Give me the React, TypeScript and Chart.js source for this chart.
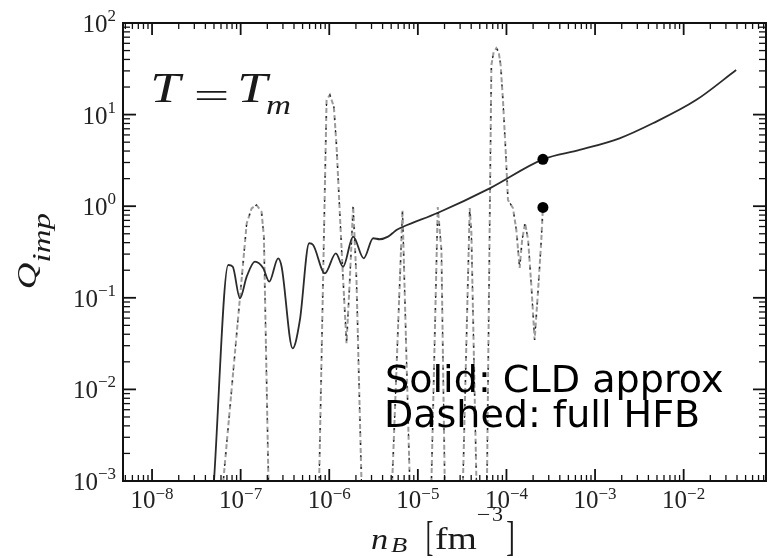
import React, { useEffect, useRef } from 'react';
import { Chart, registerables } from 'chart.js';

Chart.register(...registerables);

// Axis ranges
const xMin = 4.7e-9;
const xMax = 0.085;
const yMin = 1e-3;
const yMax = 100;

// Major tick exponents (labels)
const xTickExps = [-8, -7, -6, -5, -4, -3, -2];
const yTickExps = [-3, -2, -1, 0, 1, 2];

// Solid: CLD approx
const solidX = [5.0e-8, 7.24e-8, 8.13e-8, 9.82e-8, 1.17e-7, 1.45e-7, 1.8e-7, 2.1e-7, 2.65e-7, 2.9e-7, 3.86e-7, 4.66e-7, 5.93e-7, 6.58e-7, 8.92e-7, 1.187e-6, 1.43e-6, 1.86e-6, 2.45e-6, 3.13e-6, 3.72e-6, 4.61e-6, 5.21e-6, 5.74e-6, 6.81e-6, 1.69e-5, 6.47e-5, 2.58e-4, 6.69e-4, 1.89e-3, 4.49e-3, 1.38e-2, 3.91e-2];
const solidY = [1e-3, 0.228, 0.2185, 0.0987, 0.17, 0.248, 0.21, 0.15, 0.27, 0.2185, 0.0281, 0.057, 0.394, 0.377, 0.185, 0.306, 0.2185, 0.465, 0.27, 0.447, 0.4355, 0.465, 0.51, 0.55, 0.597, 0.849, 1.567, 3.25, 4.11, 5.51, 8.04, 14.4, 30.7];

// Dashed: full HFB (null = gap)
const dashedX = [
  6.37e-8, 1.17e-7, 1.33e-7, 1.51e-7, 1.72e-7, 1.83e-7, 2.06e-7, null,
  7.69e-7, 9.33e-7, 1.016e-6, 1.127e-6, 1.21e-6, 1.316e-6, 1.435e-6, 1.567e-6, 1.706e-6, 1.86e-6, 2.03e-6, 2.21e-6, 2.31e-6, null,
  5.14e-6, 6.71e-6, 8.1e-6, null,
  1.423e-5, 1.677e-5, 1.845e-5, 2.01e-5, null,
  3.23e-5, 3.85e-5, 4.02e-5, 4.58e-5, null,
  6.03e-5, 6.76e-5, 7.17e-5, 7.69e-5, 8.17e-5, 8.6e-5, 9.13e-5, 9.79e-5, 1.04e-4, 1.184e-4, 1.293e-4, 1.409e-4, 1.503e-4, 1.624e-4, 1.756e-4, 1.924e-4, 2.079e-4, 2.265e-4, 2.474e-4, 2.58e-4,
];
const dashedY = [
  1e-3, 0.65, 0.948, 1.03, 0.871, 0.465, 1e-3, null,
  1e-3, 14.4, 16.4, 12.2, 4.46, 0.837, 0.156, 0.0319, 0.156, 1.005, 0.156, 0.00552, 1e-3, null,
  1e-3, 0.909, 1e-3, null,
  1e-3, 0.98, 0.333, 1e-3, null,
  1e-3, 0.956, 0.51, 1e-3, null,
  1e-3, 34.8, 48.2, 53.3, 48.2, 34.8, 14.4, 4.11, 1.17, 0.956, 0.55, 0.2115, 0.4276, 0.655, 0.4276, 0.1217, 0.0346, 0.1128, 0.4276, 0.98,
];

// Marker dots
const markerX = [2.58e-4, 2.58e-4];
const markerY = [3.25, 0.97];

const SERIF = '"Liberation Serif", "Times New Roman", serif';

function drawInkBox(ctx: CanvasRenderingContext2D, text: string, font: string, left: number, top: number, w: number, h: number, clamp = 1.3) {
  ctx.save();
  ctx.font = font;
  ctx.textAlign = 'left';
  ctx.textBaseline = 'alphabetic';
  const m = ctx.measureText(text);
  const iw = m.actualBoundingBoxLeft + m.actualBoundingBoxRight;
  const ih = m.actualBoundingBoxAscent + m.actualBoundingBoxDescent;
  let sx = w / iw;
  let sy = h / ih;
  if (clamp > 0) {
    if (sx > sy * clamp) sx = sy * clamp;
    if (sy > sx * clamp) sy = sx * clamp;
  }
  ctx.translate(left, top);
  ctx.scale(sx, sy);
  ctx.fillText(text, m.actualBoundingBoxLeft, m.actualBoundingBoxAscent);
  ctx.restore();
}

function drawFitW(ctx: CanvasRenderingContext2D, text: string, font: string, left: number, baseline: number, w: number) {
  ctx.save();
  ctx.font = font;
  ctx.textAlign = 'left';
  ctx.textBaseline = 'alphabetic';
  const m = ctx.measureText(text);
  const iw = m.actualBoundingBoxLeft + m.actualBoundingBoxRight;
  ctx.translate(left, baseline);
  ctx.scale(w / iw, 1);
  ctx.fillText(text, m.actualBoundingBoxLeft, 0);
  ctx.restore();
}

const framePlugin = {
  id: 'framePlugin',
  afterDatasetsDraw(chart: any) {
    const { ctx, chartArea: a, scales } = chart;
    const xs = scales.x;
    const ys = scales.y;
    ctx.save();
    ctx.strokeStyle = '#111';
    ctx.fillStyle = '#222';
    const line = (x1: number, y1: number, x2: number, y2: number, w: number) => {
      ctx.lineWidth = w;
      ctx.beginPath();
      ctx.moveTo(x1, y1);
      ctx.lineTo(x2, y2);
      ctx.stroke();
    };
    // x ticks
    for (let e = -9; e <= -1; e++) {
      for (let m = 1; m <= 9; m++) {
        const v = m * Math.pow(10, e);
        if (v < xMin || v > xMax) continue;
        const px = xs.getPixelForValue(v);
        const major = m === 1;
        const len = major ? 12 : 6;
        const w = major ? 1.8 : 1.3;
        line(px, a.bottom, px, a.bottom - len, w);
        line(px, a.top, px, a.top + len, w);
      }
    }
    // y ticks
    for (let e = -3; e <= 2; e++) {
      for (let m = 1; m <= 9; m++) {
        const v = m * Math.pow(10, e);
        if (v < yMin || v > yMax * 1.0001) continue;
        const py = ys.getPixelForValue(v);
        const major = m === 1;
        const len = major ? 13 : 7;
        const w = major ? 1.8 : 1.3;
        line(a.left, py, a.left + len, py, w);
        line(a.right, py, a.right - len, py, w);
      }
    }
    // frame
    ctx.lineWidth = 2;
    ctx.strokeRect(a.left, a.top, a.right - a.left, a.bottom - a.top);

    // tick labels
    const mainFont = '25px ' + SERIF;
    const expFont = '17px ' + SERIF;
    ctx.textBaseline = 'alphabetic';
    ctx.textAlign = 'left';
    for (const e of xTickExps) {
      const px = xs.getPixelForValue(Math.pow(10, e));
      const expStr = e < 0 ? '\u2212' + -e : String(e);
      ctx.font = mainFont;
      const w1 = ctx.measureText('10').width;
      ctx.font = expFont;
      const w2 = ctx.measureText(expStr).width;
      const start = px - (w1 + w2) / 2;
      ctx.font = mainFont;
      ctx.fillText('10', start, 508);
      ctx.font = expFont;
      ctx.fillText(expStr, start + w1, 499);
    }
    for (const e of yTickExps) {
      const py = ys.getPixelForValue(Math.pow(10, e));
      const expStr = e < 0 ? '\u2212' + -e : String(e);
      ctx.font = mainFont;
      const w1 = ctx.measureText('10').width;
      ctx.font = expFont;
      const w2 = ctx.measureText(expStr).width;
      const right = 116;
      const start = right - w1 - w2;
      ctx.font = mainFont;
      ctx.fillText('10', start, py + 9);
      ctx.font = expFont;
      ctx.fillText(expStr, start + w1, py - 2);
    }

    // T = T_m
    ctx.fillStyle = '#1a1a1a';
    drawInkBox(ctx, 'T', 'italic 40px ' + SERIF, 153, 75, 35, 27);
    drawInkBox(ctx, '=', '40px ' + SERIF, 197, 91, 30, 10, 0);
    drawInkBox(ctx, 'T', 'italic 40px ' + SERIF, 240, 75, 35, 27);
    drawInkBox(ctx, 'm', 'italic 26px ' + SERIF, 266, 101, 24, 13);

    // x axis title: n_B [fm^-3]
    drawInkBox(ctx, 'n', 'italic 32px ' + SERIF, 372, 535, 15, 14);
    drawInkBox(ctx, 'B', 'italic 22px ' + SERIF, 391, 539, 20, 13);
    drawInkBox(ctx, '[', '34px ' + SERIF, 427, 522, 6, 34, 0);
    drawInkBox(ctx, 'fm', '32px ' + SERIF, 435, 527, 42, 22);
    drawInkBox(ctx, '\u2212', '20px ' + SERIF, 478, 513, 12, 2, 0);
    drawInkBox(ctx, '3', '20px ' + SERIF, 492, 506, 11, 15);
    drawInkBox(ctx, ']', '34px ' + SERIF, 507, 522, 6, 34, 0);

    // y axis title: Q_imp (rotated)
    ctx.save();
    ctx.rotate(-Math.PI / 2);
    // page box (x0..x1, y0..y1) -> local (left=-y1, top=x0, w=y1-y0, h=x1-x0)
    drawInkBox(ctx, 'Q', 'italic 32px ' + SERIF, -288, 17, 26, 23);
    drawInkBox(ctx, 'imp', 'italic 22px ' + SERIF, -261, 34, 48, 22);
    ctx.restore();

    // annotation text
    ctx.fillStyle = '#000';
    drawFitW(ctx, 'Solid: CLD approx', '38px "DejaVu Sans", Verdana, sans-serif', 387, 392, 336);
    drawFitW(ctx, 'Dashed: full HFB', '38px "DejaVu Sans", Verdana, sans-serif', 387, 427, 311);

    ctx.restore();
  },
};

export default function App() {
  const canvasRef = useRef<HTMLCanvasElement | null>(null);

  useEffect(() => {
    const canvas = canvasRef.current;
    if (!canvas) return;
    const solidData = solidX.map((x, i) => ({ x, y: solidY[i] }));
    const dashedData = dashedX.map((x, i) => ({
      x: x === null ? (dashedX[i - 1] as number) : x,
      y: dashedY[i],
    }));
    const markerData = markerX.map((x, i) => ({ x, y: markerY[i] }));

    const chart = new Chart(canvas, {
      type: 'line',
      data: {
        datasets: [
          {
            label: 'markers',
            data: markerData,
            showLine: false,
            pointRadius: 5.5,
            pointBackgroundColor: '#000',
            pointBorderColor: '#000',
            pointBorderWidth: 0,
            order: 0,
          },
          {
            label: 'Solid: CLD approx',
            data: solidData,
            borderColor: '#2b2b2b',
            borderWidth: 1.8,
            pointRadius: 0,
            cubicInterpolationMode: 'monotone',
            order: 1,
          },
          {
            label: 'Dashed dark',
            data: dashedData,
            borderColor: '#222',
            borderWidth: 1.2,
            borderDash: [2, 10],
            borderDashOffset: -3,
            pointRadius: 0,
            spanGaps: false,
            tension: 0,
            order: 2,
          },
          {
            label: 'Dashed: full HFB',
            data: dashedData,
            borderColor: '#9c9c9c',
            borderWidth: 2,
            borderDash: [5, 3],
            pointRadius: 0,
            spanGaps: false,
            tension: 0,
            order: 3,
          },
        ],
      },
      options: {
        responsive: false,
        animation: false,
        devicePixelRatio: 1,
        layout: { padding: { left: 123, top: 23, right: 9, bottom: 77 } },
        plugins: { legend: { display: false }, tooltip: { enabled: false } },
        scales: {
          x: { type: 'logarithmic', min: xMin, max: xMax, display: false },
          y: { type: 'logarithmic', min: yMin, max: yMax, display: false },
        },
      } as any,
      plugins: [framePlugin],
    });
    return () => chart.destroy();
  }, []);

  return (
    <div style={{ position: 'fixed', left: 0, top: 0, width: 775, height: 558, background: '#fff' }}>
      <canvas ref={canvasRef} width={775} height={558} style={{ width: 775, height: 558 }} />
    </div>
  );
}
